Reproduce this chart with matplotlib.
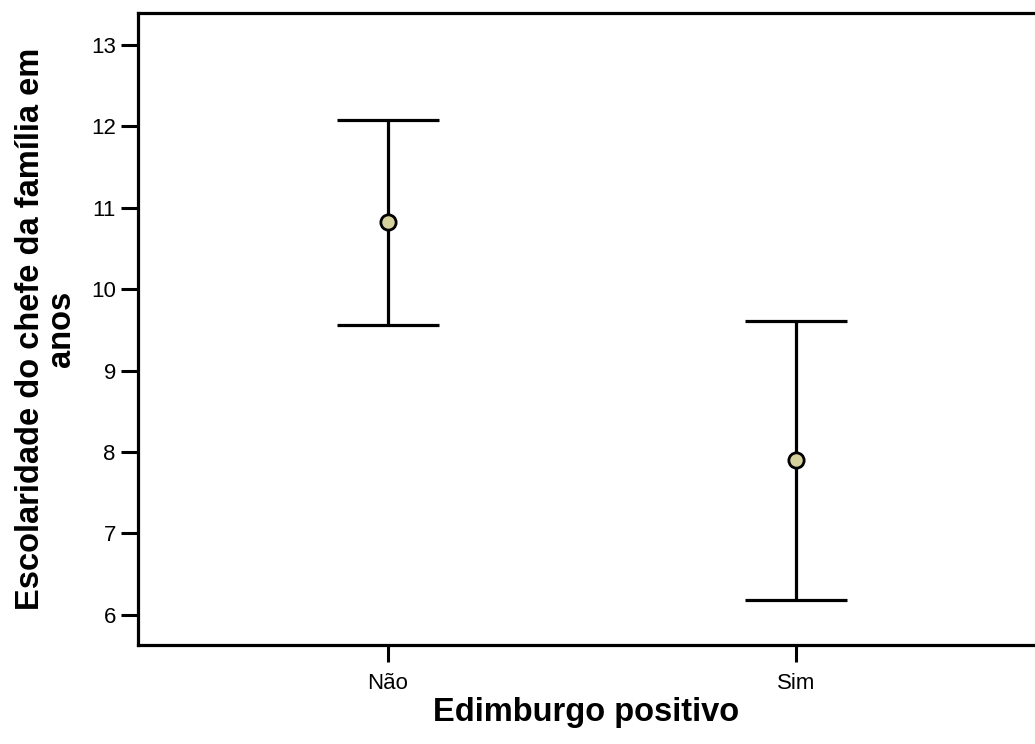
import matplotlib
matplotlib.use("Agg")
import matplotlib.pyplot as plt

categories = ["Não", "Sim"]
means = [10.82, 7.90]
lower = [9.56, 6.18]
upper = [12.08, 9.61]
yticks = [6, 7, 8, 9, 10, 11, 12, 13]

plt.rcParams['font.family'] = ['Liberation Sans', 'DejaVu Sans']

fig = plt.figure(figsize=(10.35, 7.44), dpi=100)
W, H = 1035, 744
left, right, top, bottom = 138, 1035, 13, 645
ax = fig.add_axes([left / W, (H - bottom) / H, (right - left) / W, (bottom - top) / H])

x = list(range(len(categories)))
yerr = [[m - l for m, l in zip(means, lower)], [u - m for m, u in zip(means, upper)]]
ax.errorbar(x, means, yerr=yerr, fmt='none', ecolor='black', elinewidth=2.3,
            capsize=37, capthick=2.3, zorder=2)
ax.plot(x, means, 'o', markersize=11, markerfacecolor='#d6d09d',
        markeredgecolor='black', markeredgewidth=2, zorder=3)

ax.set_xlim(-0.613, 1.586)
ax.set_ylim(5.63, 13.39)
ax.set_xticks(x)
ax.set_xticklabels(categories, fontsize=16)
ax.set_yticks(yticks)
ax.set_yticklabels([str(t) for t in yticks], fontsize=16)
ax.tick_params(axis='both', length=12, width=2.2, color='black', pad=4)
ax.tick_params(axis='x', pad=8)
for s in ['left', 'bottom', 'top']:
    ax.spines[s].set_linewidth(2.3)
ax.spines['right'].set_visible(False)

ax.set_xlabel("Edimburgo positivo", fontsize=23.5, fontweight='bold', labelpad=2)
ax.set_ylabel("Escolaridade do chefe da família em\nanos", fontsize=23.5,
              fontweight='bold', labelpad=10, linespacing=1.0)

fig.savefig("out.png", dpi=100)
